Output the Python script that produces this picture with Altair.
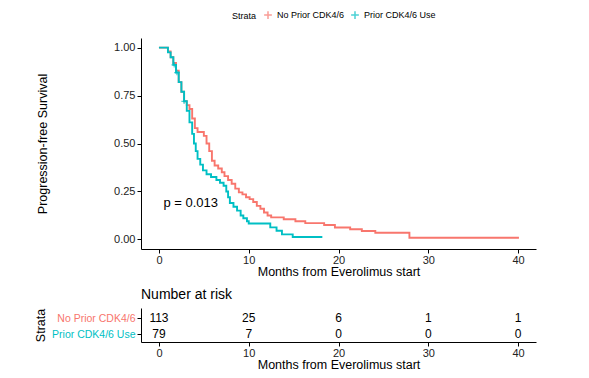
import altair as alt
import pandas as pd

FONT = "Liberation Sans"
RED = "#F8766D"
TEAL = "#00BFC4"

strata = ["No Prior CDK4/6", "Prior CDK4/6 Use"]

# Kaplan-Meier step curves (time in months, survival after the step)
no_prior_t = [0, 1.0, 1.3, 1.6, 1.9, 2.2, 2.5, 2.8, 3.1, 3.4, 3.7, 4.0, 4.3, 5.0, 5.3,
              5.6, 5.9, 6.2, 6.6, 7.0, 7.3, 7.7, 8.1, 8.5, 8.9, 9.3, 9.7, 10.1, 10.5,
              10.9, 11.3, 11.7, 12.1, 12.5, 13.9, 15.2, 16.3, 18.4, 19.6, 21.3, 22.6,
              24.1, 27.9, 40.1]
no_prior_s = [1.0, 0.98, 0.95, 0.92, 0.88, 0.82, 0.77, 0.72, 0.70, 0.68, 0.63, 0.58, 0.56,
              0.54, 0.50, 0.46, 0.41, 0.385, 0.37, 0.35, 0.33, 0.31, 0.29, 0.265, 0.245,
              0.235, 0.22, 0.21, 0.195, 0.175, 0.16, 0.14, 0.125, 0.115, 0.105, 0.095,
              0.085, 0.075, 0.062, 0.053, 0.044, 0.035, 0.009, 0.009]

prior_t = [0, 1.0, 1.3, 1.6, 1.9, 2.2, 2.5, 2.8, 3.1, 3.4, 3.7, 3.9, 4.1, 4.3, 4.6, 4.9,
           5.3, 5.8, 6.4, 6.8, 7.2, 7.5, 7.7, 7.9, 8.3, 8.7, 9.1, 9.4, 9.8, 10.0, 12.4,
           13.1, 13.7, 14.9, 18.2]
prior_s = [1.0, 0.975, 0.95, 0.91, 0.87, 0.82, 0.77, 0.72, 0.67, 0.61, 0.55, 0.50, 0.46,
           0.42, 0.39, 0.36, 0.34, 0.325, 0.31, 0.295, 0.28, 0.25, 0.22, 0.19, 0.17, 0.15,
           0.125, 0.11, 0.095, 0.083, 0.063, 0.045, 0.026, 0.0127, 0.0127]

# censor marks (Prior CDK4/6 Use)
censor_t = [1.7, 2.0, 2.8]
censor_s = [0.91, 0.87, 0.72]

# p-value annotation
p_label = ["p = 0.013"]
p_pos_t = [0.5]
p_pos_s = [0.19]

# number at risk table
risk_months = [0, 10, 20, 30, 40]
no_prior_risk = [113, 25, 6, 1, 1]
prior_risk = [79, 7, 0, 0, 0]

km = pd.concat([
    pd.DataFrame({"t": no_prior_t, "s": no_prior_s, "group": strata[0]}),
    pd.DataFrame({"t": prior_t, "s": prior_s, "group": strata[1]}),
])
cens = pd.DataFrame({"t": censor_t, "s": censor_s, "group": strata[1]})
pdf = pd.DataFrame({"t": p_pos_t, "s": p_pos_s, "label": p_label})
risk = pd.concat([
    pd.DataFrame({"t": risk_months, "n": no_prior_risk, "row": 2}),
    pd.DataFrame({"t": risk_months, "n": prior_risk, "row": 1}),
])

CROSS = "M-1,0H1M0,-1V1"
color_scale = alt.Scale(domain=strata, range=[RED, TEAL])
xscale = alt.Scale(domain=[-2, 42], nice=False, zero=False)
xaxis = alt.Axis(values=[0, 10, 20, 30, 40], title="Months from Everolimus start",
                 titlePadding=0, labelPadding=1)

lines = alt.Chart(km).mark_line(interpolate="step-after", strokeWidth=1.9).encode(
    x=alt.X("t:Q", scale=xscale, axis=xaxis),
    y=alt.Y("s:Q", scale=alt.Scale(domain=[-0.05, 1.05], nice=False),
            axis=alt.Axis(values=[0, 0.25, 0.5, 0.75, 1.0], format=".2f",
                          title="Progression-free Survival", titlePadding=64)),
    color=alt.Color("group:N", scale=color_scale,
                    legend=alt.Legend(title="Strata", orient="none", legendX=91, legendY=-28,
                                      direction="horizontal", titleOrient="left",
                                      symbolType=CROSS, symbolStrokeWidth=1.5, symbolSize=60,
                                      labelFontSize=9, titleFontSize=9, titleFontWeight="normal",
                                      titlePadding=6, columnPadding=3, labelFont=FONT,
                                      titleFont=FONT)),
)
marks = alt.Chart(cens).mark_point(shape=CROSS, size=30, strokeWidth=1.2, filled=False).encode(
    x=alt.X("t:Q", scale=xscale), y=alt.Y("s:Q"),
    color=alt.Color("group:N", scale=color_scale),
)
ptext = alt.Chart(pdf).mark_text(align="left", baseline="middle", fontSize=13, font=FONT,
                                 color="black").encode(
    x=alt.X("t:Q", scale=xscale), y=alt.Y("s:Q"), text="label:N")

top = alt.layer(lines, marks, ptext).properties(width=395, height=211)

label_expr = f"datum.value == 2 ? '{strata[0]}' : '{strata[1]}'"
bottom = alt.Chart(risk).mark_text(fontSize=12, font=FONT, color="black").encode(
    x=alt.X("t:Q", scale=xscale, axis=xaxis),
    y=alt.Y("row:Q", scale=alt.Scale(domain=[0.5, 2.625], nice=False, zero=False),
            axis=alt.Axis(values=[1, 2], labelExpr=label_expr, title="Strata",
                          titlePadding=4, labelFontSize=10.5,
                          labelColor={"condition": {"test": "datum.value == 2", "value": RED},
                                      "value": TEAL})),
    text="n:Q",
).properties(width=395, height=34,
             title=alt.TitleParams("Number at risk", anchor="start", frame="group",
                                   fontSize=14, fontWeight="normal", font=FONT, offset=6,
                                   color="black"))

chart = alt.vconcat(top, bottom, spacing=10).properties(
    padding={"left": 26, "top": 2, "right": 5, "bottom": 2}
).configure_view(stroke=None).configure_axis(
    grid=False, domainColor="black", tickColor="black", tickSize=4, labelPadding=2,
    labelFont=FONT, titleFont=FONT, labelFontSize=11, titleFontSize=12.5,
    labelColor="#222", titleColor="black", titleFontWeight="normal"
).configure_legend(labelColor="black", titleColor="black")

chart.save("out.html", embed_options={"renderer": "svg", "actions": False})
